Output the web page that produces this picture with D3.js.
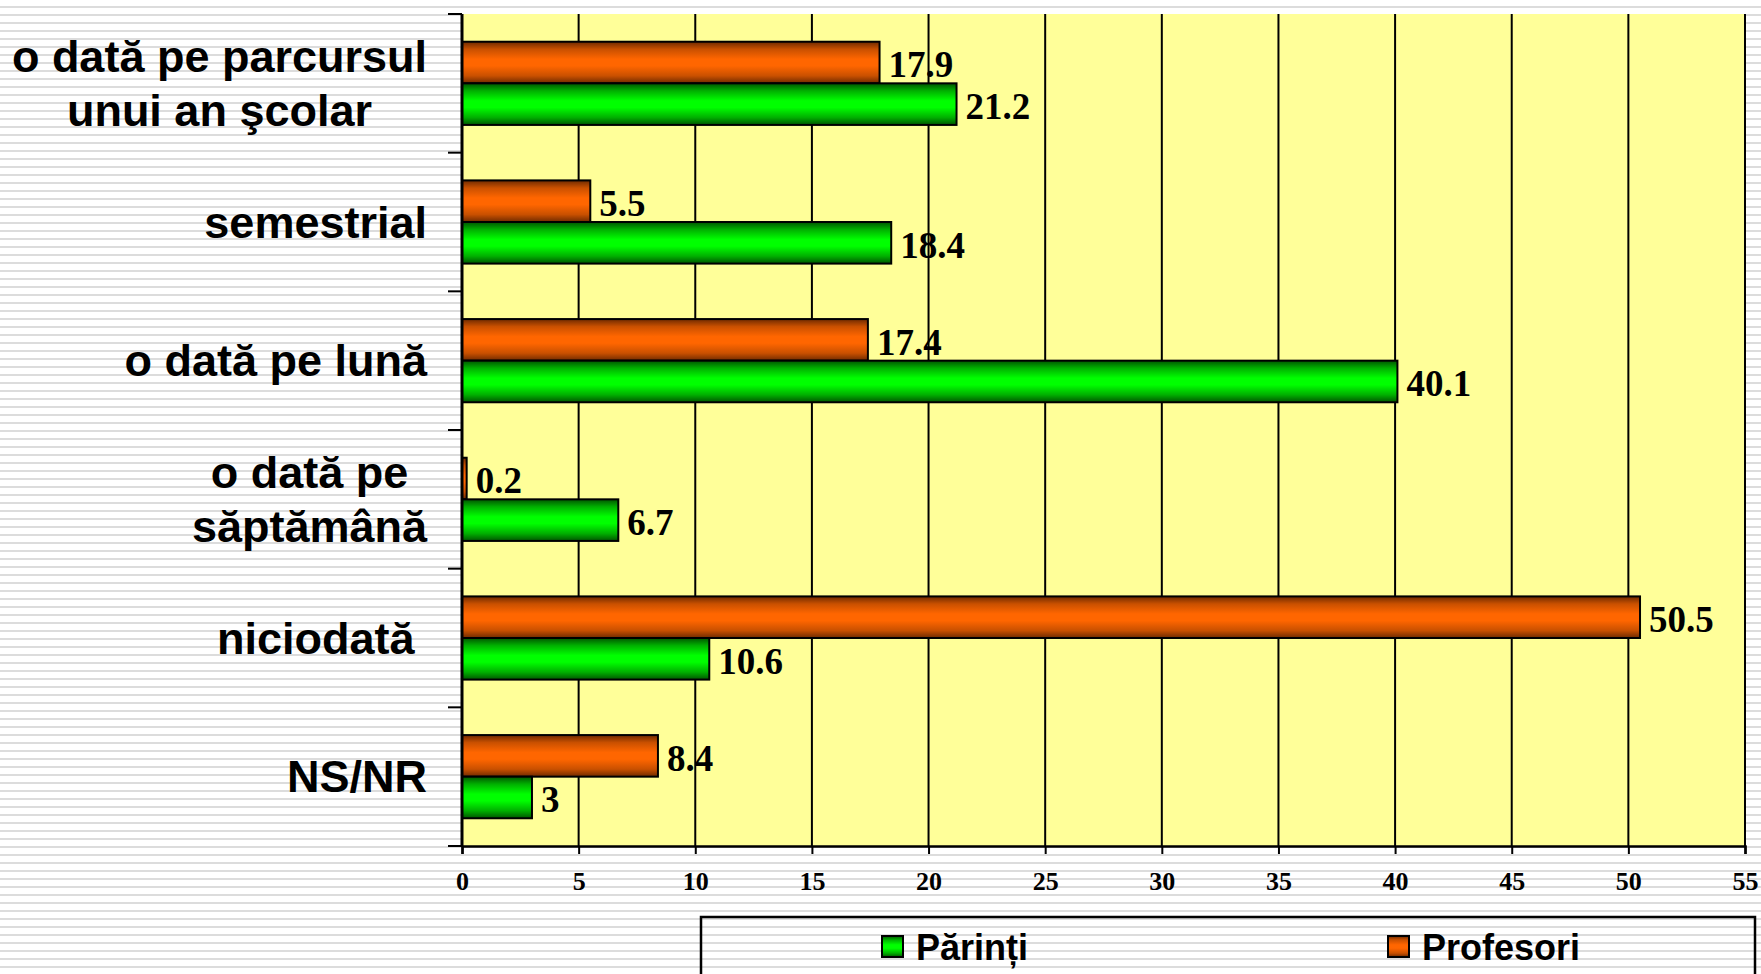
<!DOCTYPE html>
<html>
<head>
<meta charset="utf-8">
<script src="https://cdn.jsdelivr.net/npm/d3@7"></script>
<style>
  html, body { margin: 0; padding: 0; background: #fff; }
  svg { display: block; }
</style>
</head>
<body>
<svg id="chart" width="1761" height="974"></svg>
<script>
// ---- data ----
const categories = [
  "o dată pe parcursul\nunui an şcolar",
  "semestrial",
  "o dată pe lună",
  "o dată pe\nsăptămână",
  "niciodată ",
  "NS/NR"
];
const seriesNames = ["Profesori", "Părinți"];
const profesori = [17.9, 5.5, 17.4, 0.2, 50.5, 8.4];
const parinti = [21.2, 18.4, 40.1, 6.7, 10.6, 3];
const xTicks = [0, 5, 10, 15, 20, 25, 30, 35, 40, 45, 50, 55];
const legendItems = ["Părinți", "Profesori"];

const seriesValues = { "Profesori": profesori, "Părinți": parinti };

const svg = d3.select("#chart");
const W = 1761, H = 974;
const plot = { left: 462, right: 1745, top: 14, bottom: 846 };

const defs = svg.append("defs");
// striped background pattern
const pat = defs.append("pattern").attr("id", "stripes")
  .attr("patternUnits", "userSpaceOnUse").attr("width", 8).attr("height", 8);
pat.append("rect").attr("width", 8).attr("height", 8).attr("fill", "#ffffff");
pat.append("rect").attr("y", 6).attr("width", 8).attr("height", 2).attr("fill", "#dcdcdc");

function grad(id, dark, mid, bright) {
  const g = defs.append("linearGradient").attr("id", id)
    .attr("x1", 0).attr("y1", 0).attr("x2", 0).attr("y2", 1);
  [[0, dark], [0.18, mid], [0.42, bright], [0.58, bright], [0.82, mid], [1, dark]]
    .forEach(([o, c]) => g.append("stop").attr("offset", o).attr("stop-color", c));
}
grad("gOrange", "#6e2a00", "#c95000", "#ff6600");
grad("gGreen", "#005500", "#00b000", "#00ff00");
const fills = { "Profesori": "url(#gOrange)", "Părinți": "url(#gGreen)" };

svg.append("rect").attr("width", W).attr("height", H).attr("fill", "url(#stripes)");

// scales
const x = d3.scaleLinear().domain([0, 55]).range([plot.left, plot.right]);
const y = d3.scaleBand().domain(categories).range([plot.top, plot.bottom]).padding(0);
const y1 = d3.scaleBand().domain(seriesNames)
  .range([y.bandwidth() * 0.2, y.bandwidth() * 0.8]).padding(0);

// plot background
svg.append("rect")
  .attr("x", x(0)).attr("y", plot.top)
  .attr("width", x(55) - x(0)).attr("height", plot.bottom - plot.top)
  .attr("fill", "#ffff99");

// gridlines
svg.append("g").selectAll("line").data(xTicks.filter(d => d > 0)).join("line")
  .attr("x1", d => x(d)).attr("x2", d => x(d))
  .attr("y1", plot.top).attr("y2", plot.bottom)
  .attr("stroke", "#000").attr("stroke-width", 2);

// bars
const groups = svg.append("g").selectAll("g").data(categories).join("g")
  .attr("transform", d => `translate(0,${y(d)})`);

groups.each(function(cat, i) {
  const g = d3.select(this);
  seriesNames.forEach(s => {
    const v = seriesValues[s][i];
    g.append("rect")
      .attr("x", x(0)).attr("y", y1(s))
      .attr("width", x(v) - x(0)).attr("height", y1.bandwidth())
      .attr("fill", fills[s]).attr("stroke", "#000").attr("stroke-width", 2);
  });
});

// x axis
const xAxis = d3.axisBottom(x).tickValues(xTicks).tickSize(8).tickFormat(d3.format("d"));
const xg = svg.append("g").attr("transform", `translate(0,${plot.bottom})`).call(xAxis);
xg.select(".domain").attr("stroke", "#000").attr("stroke-width", 2.5);
xg.selectAll(".tick line").attr("stroke", "#000").attr("stroke-width", 2);
xg.selectAll(".tick text")
  .attr("y", 44).attr("dy", 0)
  .attr("font-family", "'Liberation Serif', 'Times New Roman', serif")
  .attr("font-weight", "bold").attr("font-size", 26).attr("fill", "#000");

// y axis (line and ticks at band boundaries)
const boundaries = d3.range(categories.length + 1).map(k => plot.top + k * y.step());
svg.append("line").attr("x1", x(0)).attr("x2", x(0))
  .attr("y1", plot.top).attr("y2", plot.bottom)
  .attr("stroke", "#000").attr("stroke-width", 3);
svg.append("g").selectAll("line").data(boundaries).join("line")
  .attr("x1", x(0) - 14).attr("x2", x(0))
  .attr("y1", d => d).attr("y2", d => d)
  .attr("stroke", "#000").attr("stroke-width", 2);

// value labels
groups.each(function(cat, i) {
  const g = d3.select(this);
  seriesNames.forEach(s => {
    const v = seriesValues[s][i];
    g.append("text")
      .attr("x", x(v) + 9)
      .attr("y", y1(s) + y1.bandwidth() / 2)
      .attr("dy", "0.4em")
      .attr("font-family", "'Liberation Serif', 'Times New Roman', serif")
      .attr("font-weight", "bold").attr("font-size", 37).attr("fill", "#000")
      .text(String(v));
  });
});

// category labels
const labelRight = 427;
const lineH = 54;
const labelSize = 45;
categories.forEach(cat => {
  const lines = cat.split("\n");
  const cy = y(cat) + y.bandwidth() / 2;
  const t = svg.append("text")
    .attr("font-family", "'Liberation Sans', Arial, sans-serif")
    .attr("font-weight", "bold").attr("font-size", labelSize).attr("fill", "#000")
    .style("white-space", "pre");
  const spans = lines.map((ln, k) => t.append("tspan")
    .attr("y", cy + labelSize * 0.35 + (k - (lines.length - 1) / 2) * lineH)
    .text(ln));
  if (lines.length === 1) {
    t.attr("text-anchor", "end");
    spans[0].attr("x", labelRight);
  } else {
    const maxW = d3.max(spans, sp => sp.node().getComputedTextLength());
    t.attr("text-anchor", "middle");
    spans.forEach(sp => sp.attr("x", labelRight - maxW / 2));
  }
});

// legend
const legendColors = { "Părinți": "url(#gGreen)", "Profesori": "url(#gOrange)" };
svg.append("rect").attr("x", 701).attr("y", 917).attr("width", 1054).attr("height", 120)
  .attr("fill", "none").attr("stroke", "#000").attr("stroke-width", 2.5);
const legendX = { "Părinți": 882, "Profesori": 1388 };
legendItems.forEach(name => {
  svg.append("rect").attr("x", legendX[name]).attr("y", 936)
    .attr("width", 21).attr("height", 21)
    .attr("fill", legendColors[name]).attr("stroke", "#000").attr("stroke-width", 2);
  svg.append("text").attr("x", legendX[name] + 34).attr("y", 960)
    .attr("font-family", "'Liberation Sans', Arial, sans-serif")
    .attr("font-weight", "bold").attr("font-size", 36).attr("fill", "#000")
    .text(name);
});
</script>
</body>
</html>
